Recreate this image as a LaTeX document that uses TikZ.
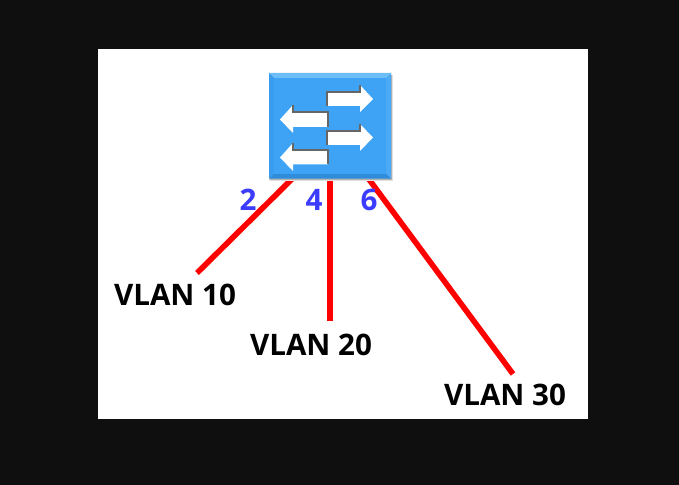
\documentclass[tikz,border=0pt]{standalone}
\usepackage{fontspec}
\setmainfont{Open Sans}
\definecolor{bgdark}{HTML}{0F0F0F}
\definecolor{swblue}{HTML}{3FA3F5}
\definecolor{swlight}{HTML}{6DBDF7}
\definecolor{swmid}{HTML}{4BAAF5}
\definecolor{swdark}{HTML}{2F8CDB}
\definecolor{swleft}{HTML}{3A9CEE}
\definecolor{portblue}{HTML}{3C3CFF}
\tikzset{
  x=0.75pt,y=-0.75pt,
  vlan/.style={font=\fontsize{22.2}{24}\selectfont\bfseries,text=black,inner sep=0pt,anchor=center},
  port/.style={font=\fontsize{22.2}{24}\selectfont\bfseries,text=portblue,inner sep=0pt,anchor=center},
  wire/.style={draw=red,line width=4.2pt},
  fwd/.style={fill=white,draw=none},
  edgeline/.style={draw=black!60,line width=0.8pt},
  switchbox/.style={draw=none,fill=none,minimum width=91pt,minimum height=78.75pt,inner sep=0pt}
}
\begin{document}
\begin{tikzpicture}
\useasboundingbox (0,0) rectangle (679,485);
\fill[bgdark] (0,0) rectangle (679,485);
\fill[white] (98,49) rectangle (588,419);
\node[switchbox] (sw) at (330,125.8) {};
\coordinate (e10) at (197,273);
\coordinate (e20) at (330,321);
\coordinate (e30) at (513,374);
\coordinate (s10) at (293,178);
\coordinate (s20) at (330,178);
\coordinate (s30) at (368,178);
\draw[wire] (s10) -- (e10);
\draw[wire] (s20) -- (e20);
\draw[wire] (s30) -- (e30);
% soft shadow and bevelled switch body
\fill[black!12] (269,75) rectangle (392.5,181);
\fill[black!30] (270,75) rectangle (391.5,180);
\fill[swlight] (269,73) -- (391,73) -- (386,78) -- (274,78) -- cycle;
\fill[swdark] (269,178.5) -- (391,178.5) -- (386,173.5) -- (274,173.5) -- cycle;
\fill[swleft] (269,73) -- (274,78) -- (274,173.5) -- (269,178.5) -- cycle;
\fill[swmid] (391,73) -- (386,78) -- (386,173.5) -- (391,178.5) -- cycle;
\fill[swblue] (274,78) rectangle (386,173.5);
% arrows
\fill[fwd] (327,92) -- (360,92) -- (360,85) -- (373,99) -- (360,112) -- (360,106) -- (327,106) -- cycle;
\draw[edgeline] (327,106) -- (327,92) -- (360,92) -- (360,85);
\fill[fwd] (328,112) -- (293,112) -- (293,105) -- (280,119.5) -- (293,133) -- (293,127) -- (328,127) -- cycle;
\draw[edgeline] (328,127) -- (328,112) -- (293,112) -- (293,105);
\fill[fwd] (327,131) -- (360,131) -- (360,124) -- (373,137.5) -- (360,151) -- (360,145) -- (327,145) -- cycle;
\draw[edgeline] (327,145) -- (327,131) -- (360,131) -- (360,124);
\fill[fwd] (328,150) -- (293,150) -- (293,143) -- (280,157.5) -- (293,171) -- (293,164.5) -- (328,164.5) -- cycle;
\draw[edgeline] (328,164.5) -- (328,150) -- (293,150) -- (293,143);
% labels
\node[port] (p2) at (248,200) {2};
\node[port] (p4) at (314,200) {4};
\node[port] (p6) at (369,200) {6};
\node[vlan] (v10) at (175,295) {VLAN 10};
\node[vlan] (v20) at (311,345) {VLAN 20};
\node[vlan] (v30) at (505,395) {VLAN 30};
\end{tikzpicture}
\end{document}
